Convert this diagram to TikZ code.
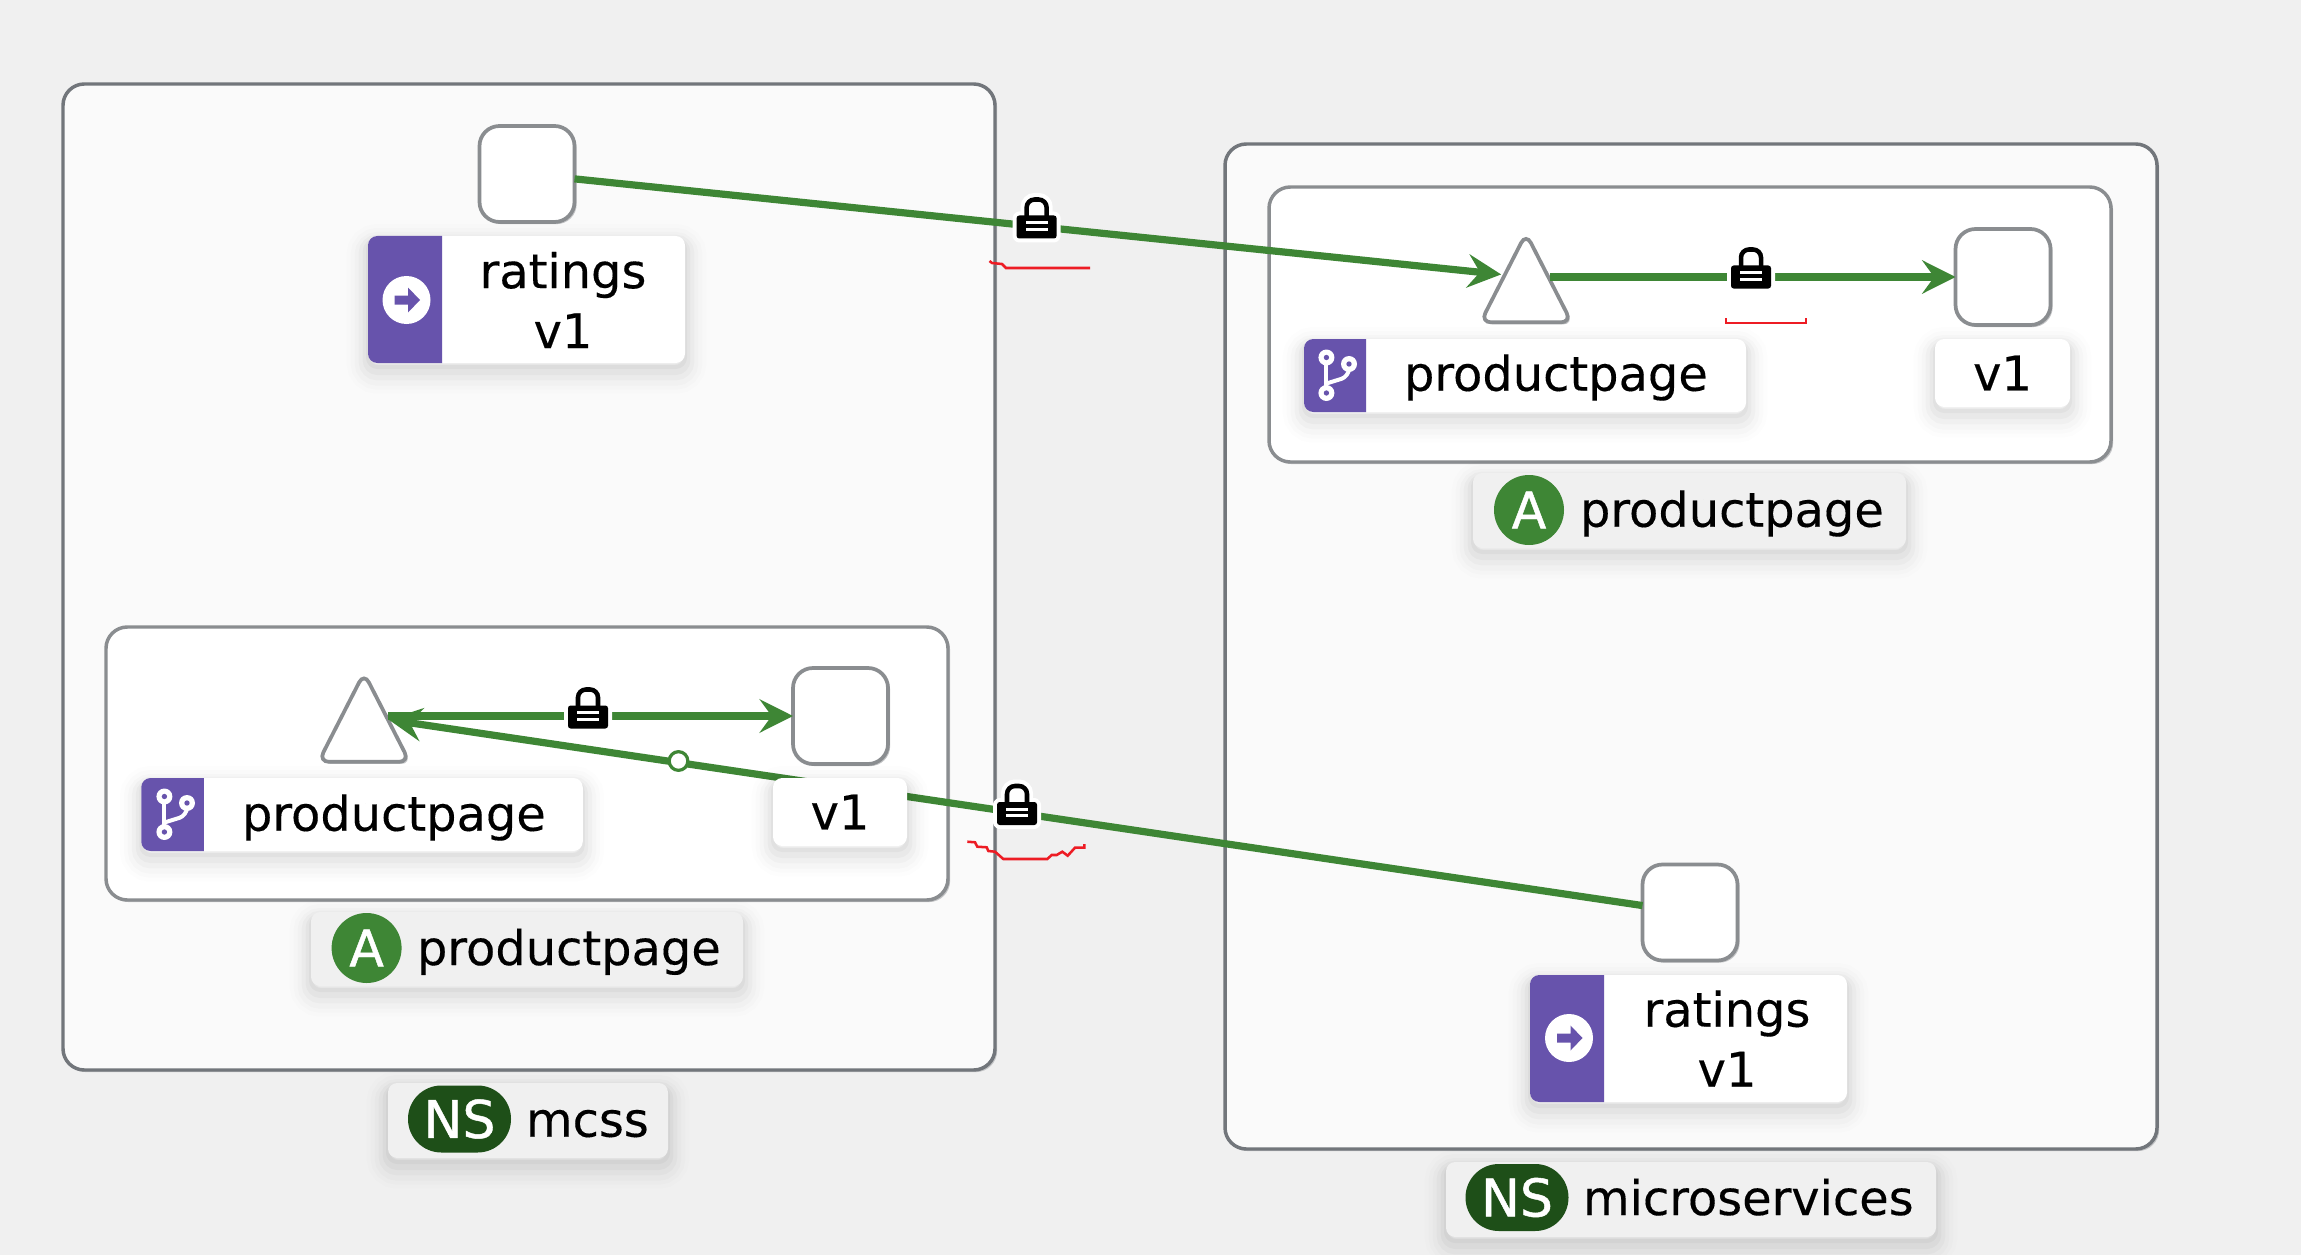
\documentclass[tikz,border=0pt]{standalone}
\usepackage{fontspec}
\setmainfont[FakeBold=0.25]{DejaVu Sans}
\newfontfamily\badgefont[FakeBold=0.9]{DejaVu Sans}
\usetikzlibrary{arrows.meta, calc, shadows, shapes.geometric}
\definecolor{pagebg}{HTML}{F0F0F0}
\definecolor{nsfill}{HTML}{FAFAFA}
\definecolor{rimgrey}{HTML}{72767B}
\definecolor{appgrey}{HTML}{8A8D90}
\definecolor{rimshade}{HTML}{C4C5C7}
\definecolor{edgegreen}{HTML}{3E8635}
\definecolor{nsgreen}{HTML}{1E4F18}
\definecolor{tabpurple}{HTML}{6753AC}
\definecolor{markred}{HTML}{ED1C24}
\tikzset{
  >={Stealth[length=25pt,width=25pt,inset=9pt]},
  sized/.style 2 args={minimum width=#1*.75pt, minimum height=#2*.75pt},
  softshadow/.style={
    general shadow={draw=black, line width=32pt, opacity=.008, shadow yshift=-7pt},
    general shadow={draw=black, line width=26pt, opacity=.012, shadow yshift=-7pt},
    general shadow={draw=black, line width=20pt, opacity=.016, shadow yshift=-7pt},
    general shadow={draw=black, line width=14pt, opacity=.022, shadow yshift=-6pt},
    general shadow={draw=black, line width=8pt, opacity=.028, shadow yshift=-5pt},
    general shadow={draw=black, line width=3pt, opacity=.03, shadow yshift=-3pt}},
  rimshadow/.style={
    general shadow={fill=rimshade, shadow xshift=1.6pt, shadow yshift=-1.6pt}},
  nsbox/.style={
    rectangle, rounded corners=16pt, rimshadow,
    fill=nsfill, draw=rimgrey, line width=2.6pt, outer sep=0pt},
  appbox/.style={
    rectangle, rounded corners=16pt, rimshadow,
    fill=white, draw=appgrey, line width=2.6pt, outer sep=0pt},
  svcbox/.style={
    rectangle, rounded corners=15pt, rimshadow, sized={95}{96},
    fill=white, draw=appgrey, line width=2.8pt, outer sep=0pt},
  prodtri/.style={
    isosceles triangle, isosceles triangle stretches, shape border rotate=90,
    rounded corners=8pt, rimshadow, sized={91}{89}, inner sep=0pt, outer sep=0pt,
    fill=white, draw=appgrey, line width=2.8pt},
  whitetag/.style={
    rectangle, rounded corners=7pt, softshadow, fill=white, inner sep=0pt, outer sep=0pt},
  greytag/.style={
    rectangle, rounded corners=7pt, softshadow, fill=pagebg, inner sep=0pt, outer sep=0pt},
  tagtext/.style={
    font=\fontsize{35.9}{45}\selectfont, text=black, inner sep=0pt, outer sep=0pt},
  appbadge/.style={
    circle, fill=edgegreen, text=white, minimum size=52.5pt, inner sep=0pt,
    font=\badgefont\fontsize{38}{45}\selectfont},
  nsbadge/.style={
    rectangle, rounded corners=25pt, fill=nsgreen, text=white, sized={103}{67}, inner sep=0pt,
    font=\badgefont\fontsize{39}{45}\selectfont},
  trafficline/.style={draw=edgegreen, line width=5.4pt},
  waydot/.style={
    circle, fill=white, draw=edgegreen, line width=2.4pt, minimum size=14pt, inner sep=0pt},
  markline/.style={draw=markred, line width=1.9pt},
  lockicon/.pic={
    \path[fill=white, draw=white, line width=6pt, line join=round, rounded corners=2pt] (-20,-2.5) rectangle (20,20.5);
    \path[fill=white, draw=white, line width=9pt, rounded corners=6pt] (-10,0) -- (-10,-19) -- (10,-19) -- (10,0) -- cycle;
    \draw[black, line width=3.4pt, rounded corners=6pt] (-10,0) -- (-10,-18.5) -- (10,-18.5) -- (10,0);
    \fill[black, rounded corners=2pt] (-20,-2.5) rectangle (20,20.5);
    \fill[white] (-11,3.2) rectangle (11,6.2);
    \fill[white] (-11,9.8) rectangle (11,12.8);
  },
  routeicon/.pic={
    \fill[white] (0,0) circle (18pt);
    \fill[tabpurple] (-12,-4.5) -- (1.5,-4.5) -- (1.5,-12.5) -- (13.5,0) -- (1.5,12.5) -- (1.5,4.5) -- (-12,4.5) -- cycle;
  },
  branchicon/.pic={
    \draw[white, line width=3pt] (-8.6,-18) -- (-8.6,17.5);
    \draw[white, line width=3pt, rounded corners=6pt] (14,-11.5) -- (14,1) -- (-8.6,8);
    \foreach \dotx/\doty in {-8.6/-18, 14/-11.5, -8.6/17.5} {
      \fill[white] (\dotx,\doty) circle (6pt);
      \fill[tabpurple] (\dotx,\doty) circle (2pt);
    }
  },
}
\newcommand{\purpletab}[2]{
  \fill[tabpurple] ($(#1.north west)+(#2,0)$) [rounded corners=7pt] -- (#1.north west) -- (#1.south west) [sharp corners] -- ($(#1.south west)+(#2,0)$) -- cycle;
}

\begin{document}
\begin{tikzpicture}[x=.75pt, y=-.75pt]
  \fill[pagebg] (0,0) rectangle (2301,1255);
  \useasboundingbox (0,0) rectangle (2301,1255);

  % namespaces and apps
  \node[nsbox, sized={932}{986}]  (NsMcss)   at (529,577) {};
  \node[nsbox, sized={932}{1005}] (NsMicro)  at (1691,646.5) {};
  \node[appbox, sized={842}{273}] (AppMcss)  at (527,763.5) {};
  \node[appbox, sized={842}{275}] (AppMicro) at (1690,324.5) {};

  \node[svcbox]  (RatingsSvcMcss)  at (527,174) {};
  \node[svcbox]  (RatingsSvcMicro) at (1690,912.5) {};
  \node[svcbox]  (VoneSvcMcss)     at (840.5,716) {};
  \node[svcbox]  (VoneSvcMicro)    at (2003,277) {};
  \node[prodtri] (ProductMcss)     at (364,734) {};
  \node[prodtri] (ProductMicro)    at (1526,294.5) {};
  \coordinate (ProductMidMcss)  at ($(ProductMcss.center)+(0,-18)$);
  \coordinate (ProductMidMicro) at ($(ProductMicro.center)+(0,-17.5)$);

  % traffic
  \draw[trafficline, ->, shorten >=18.75pt] (RatingsSvcMcss) -- (ProductMidMicro);
  \draw[trafficline, ->, shorten >=18.75pt] (RatingsSvcMicro) -- (ProductMidMcss);
  \draw[trafficline, ->, shorten <=18pt] (ProductMidMcss) -- (VoneSvcMcss);
  \draw[trafficline, ->, shorten <=18pt] (ProductMidMicro) -- (VoneSvcMicro);
  \node[waydot] (WayDot) at (678.5,761) {};

  % labels under the workloads
  \node[whitetag, sized={317}{127}]   (RatingsTagMcss)  at (526.5,299.5) {};
  \purpletab{RatingsTagMcss}{74}
  \pic at (406.5,300) {routeicon};
  \node[tagtext, align=center]        (RatingsTxtMcss)  at (563,300) {ratings\\v1};

  \node[whitetag, sized={317}{127}]   (RatingsTagMicro) at (1688.5,1038.5) {};
  \purpletab{RatingsTagMicro}{74}
  \pic at (1569,1038) {routeicon};
  \node[tagtext, align=center]        (RatingsTxtMicro) at (1727,1038.5) {ratings\\v1};

  \node[whitetag, sized={441.5}{73}]  (ProductTagMcss)  at (362,814.5) {};
  \purpletab{ProductTagMcss}{62.5}
  \pic at (173,814.5) {branchicon};
  \node[tagtext, anchor=base west]    (ProductTxtMcss)  at (242,830.7) {productpage};

  \node[whitetag, sized={442}{73}]    (ProductTagMicro) at (1525,375.5) {};
  \purpletab{ProductTagMicro}{62}
  \pic at (1335,375.5) {branchicon};
  \node[tagtext, anchor=base west]    (ProductTxtMicro) at (1404,390.7) {productpage};

  \node[whitetag, tagtext, sized={134}{68}] (VoneTagMcss)  at (840,812) {v1};
  \node[whitetag, tagtext, sized={135}{68}] (VoneTagMicro) at (2002.5,373) {v1};

  % badges
  \node[greytag, sized={432}{74}]  (AppTagMcss)  at (527,949) {};
  \node[appbadge]                  (AppBadgeMcss)  at (366.6,948) {A};
  \node[tagtext, anchor=base west] (AppTxtMcss)  at (417,965) {productpage};

  \node[greytag, sized={433}{75}]  (AppTagMicro) at (1689.5,510.5) {};
  \node[appbadge]                  (AppBadgeMicro) at (1529,510) {A};
  \node[tagtext, anchor=base west] (AppTxtMicro) at (1580,526.7) {productpage};

  \node[greytag, sized={280}{75}]  (NsTagMcss)   at (528,1120.5) {};
  \node[nsbadge]                   (NsBadgeMcss)   at (459.5,1119) {NS};
  \node[tagtext, anchor=base west] (NsTxtMcss)   at (526,1136.7) {mcss};

  \node[greytag, sized={490}{75}]  (NsTagMicro)  at (1691,1199.5) {};
  \node[nsbadge]                   (NsBadgeMicro)  at (1517,1197.5) {NS};
  \node[tagtext, anchor=base west] (NsTxtMicro)  at (1583,1215) {microservices};

  \pic at (1036.6,218) {lockicon};
  \pic at (1751,268) {lockicon};
  \pic at (588,708) {lockicon};
  \pic at (1017,804.5) {lockicon};

  % red marks
  \draw[markline] (989.5,261) -- (992,263) -- (1002,264) -- (1006,268) -- (1090,268);
  \draw[markline] (1726,318) -- (1726,323) -- (1806,323) -- (1806,318);
  \draw[markline] (967.3,841.7) -- (975,842.3) -- (977.3,846.7) -- (986.7,847.3) -- (988.3,851) -- (995,851.7) -- (1003.3,859) -- (1047.3,859) -- (1051.7,855) -- (1056.7,855) -- (1062.3,851.7) -- (1067.7,855.7) -- (1075,847.7) -- (1084.3,847.7) -- (1084.3,844);
\end{tikzpicture}
\end{document}
